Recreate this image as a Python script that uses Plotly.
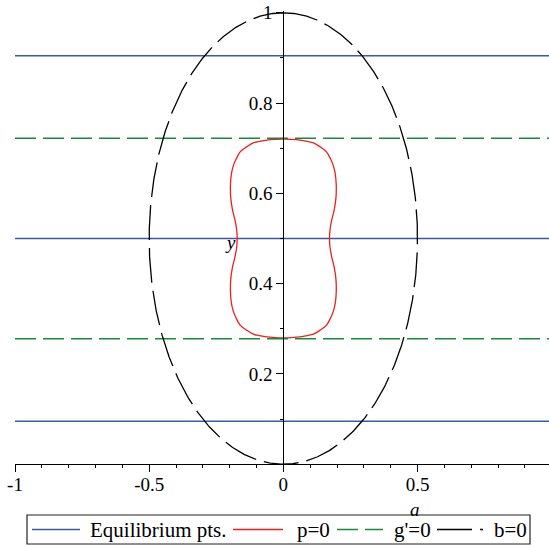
import numpy as np
import plotly.graph_objects as go

# ---- data -------------------------------------------------------------
# horizontal equilibrium lines (y values)
equilibrium_y = [0.095, 0.5, 0.905]
# g'=0 lines (y values)
gprime_y = [0.278, 0.722]
# p=0 curve: upper-right quarter, from the top (a=0) down to y = 1/2
p_y = [0.720, 0.7195, 0.718, 0.715, 0.712, 0.703, 0.692, 0.676, 0.662, 0.645,
       0.620, 0.590, 0.565, 0.540, 0.520, 0.500]
p_a = [0.000, 0.030, 0.062, 0.090, 0.112, 0.137, 0.161, 0.176, 0.186, 0.193,
       0.197, 0.196, 0.190, 0.180, 0.174, 0.172]
# b=0 is the circle a^2 + (y - 1/2)^2 = 1/4
b_center = (0.0, 0.5)
b_radius = 0.5

x_ticks = [-1, -0.5, 0, 0.5, 1]
x_ticktext = ["-1", "-0.5", "0", "0.5", "1"]
y_ticks = [0.2, 0.4, 0.6, 0.8, 1]
y_ticktext = ["0.2", "0.4", "0.6", "0.8", "1"]

legend_names = ["Equilibrium pts.", "p=0", "g'=0", "b=0"]

# ---- styling ----------------------------------------------------------
FONT = "Liberation Serif"
BLUE = "#3C5AAA"
RED = "#F01E1E"
GREEN = "#148A3C"
BLACK = "#000000"

W, H = 549, 547
M = dict(l=15, r=0, t=11, b=81)
x_range = [-1.0, 0.99]
y_range = [-0.004, 1.004]

styles = [
    dict(color=BLUE, width=1.5, dash="solid"),
    dict(color=RED, width=1.3, dash="solid"),
    dict(color=GREEN, width=1.5, dash="21px,7px"),
    dict(color=BLACK, width=1.3, dash="35px,8px"),
]


def hlines(ys, x0, x1):
    xs, yv = [], []
    for y in ys:
        xs += [x0, x1, None]
        yv += [y, y, None]
    return xs, yv


fig = go.Figure()

ex, ey = hlines(equilibrium_y, x_range[0], x_range[1])
fig.add_trace(go.Scatter(x=ex, y=ey, mode="lines", name=legend_names[0], line=styles[0]))

# the p=0 curve is symmetric about a = 0 and about y = 1/2
ra = list(p_a) + list(reversed(p_a[:-1]))
ry = list(p_y) + [1 - v for v in reversed(p_y[:-1])]
px_ = ra + [-v for v in reversed(ra)]
py_ = ry + list(reversed(ry))
fig.add_trace(go.Scatter(x=px_, y=py_, mode="lines", name=legend_names[1],
                         line=dict(**styles[1], shape="spline", smoothing=1.0)))

gx, gy = hlines(gprime_y, x_range[0], x_range[1])
fig.add_trace(go.Scatter(x=gx, y=gy, mode="lines", name=legend_names[2], line=styles[2]))

t = np.linspace(0, 2 * np.pi, 721)
bx = b_center[0] + b_radius * np.sin(t)
by = b_center[1] + b_radius * np.cos(t)
fig.add_trace(go.Scatter(x=bx, y=by, mode="lines", name=legend_names[3], line=styles[3]))

# ---- pixel layout helpers (pixels -> paper coordinates) ---------------
plot_w = W - M["l"] - M["r"]
plot_h = H - M["t"] - M["b"]


def pxx(p):
    return (p - M["l"]) / plot_w


def pxy(p):
    return (H - M["b"] - p) / plot_h


# axis titles
fig.add_annotation(x=pxx(415), y=pxy(509), xref="paper", yref="paper", text="<i>a</i>",
                   xanchor="center", yanchor="middle", showarrow=False,
                   font=dict(family=FONT, size=19, color="black"))
fig.add_annotation(x=pxx(230), y=pxy(243), xref="paper", yref="paper", text="<i>y</i>",
                   xanchor="center", yanchor="middle", showarrow=False,
                   font=dict(family=FONT, size=19, color="black"))

# boxed key below the plot
box = (27, 515, 530, 544)
key_mid = 529.5
sample_spans = [(32, 80), (233, 283), (337, 383), (437, 483)]
text_left = [88, 295, 391.5, 491.5]

fig.add_shape(type="rect", xref="paper", yref="paper",
              x0=pxx(box[0]), x1=pxx(box[2]), y0=pxy(box[1]), y1=pxy(box[3]),
              line=dict(color="#222222", width=1.2), fillcolor="white", layer="below")
for name, st, (s0, s1), tl in zip(legend_names, styles, sample_spans, text_left):
    fig.add_shape(type="line", xref="paper", yref="paper",
                  x0=pxx(s0), x1=pxx(s1), y0=pxy(key_mid), y1=pxy(key_mid),
                  line=dict(color=st["color"], width=st["width"], dash=st["dash"]))
    fig.add_annotation(x=pxx(tl), y=pxy(key_mid), xref="paper", yref="paper",
                       xanchor="left", yanchor="middle", text=name, showarrow=False,
                       font=dict(family=FONT, size=21, color="black"))

x_zero_frac = (0 - x_range[0]) / (x_range[1] - x_range[0])
y_zero_frac = (0 - y_range[0]) / (y_range[1] - y_range[0])

axis_common = dict(showgrid=False, zeroline=False, showline=True, linecolor="black",
                   linewidth=1.2, anchor="free", tickmode="array", ticks="outside",
                   ticklen=7, tickwidth=1.2, tickcolor="black",
                   minor=dict(dtick=0.1, tick0=0, ticks="outside", ticklen=3,
                              tickwidth=1.2, tickcolor="black"),
                   tickfont=dict(family=FONT, size=19, color="black"))

fig.update_layout(
    width=W, height=H,
    margin=dict(**M, autoexpand=False),
    paper_bgcolor="white", plot_bgcolor="white",
    font=dict(family=FONT, size=19, color="black"),
    showlegend=False,
    xaxis=dict(range=x_range, position=y_zero_frac, tickvals=x_ticks,
               ticktext=x_ticktext, ticklabelstandoff=-4, **axis_common),
    yaxis=dict(range=y_range, position=x_zero_frac, tickvals=y_ticks,
               ticktext=y_ticktext, **axis_common),
)

fig.write_html("out.html")
